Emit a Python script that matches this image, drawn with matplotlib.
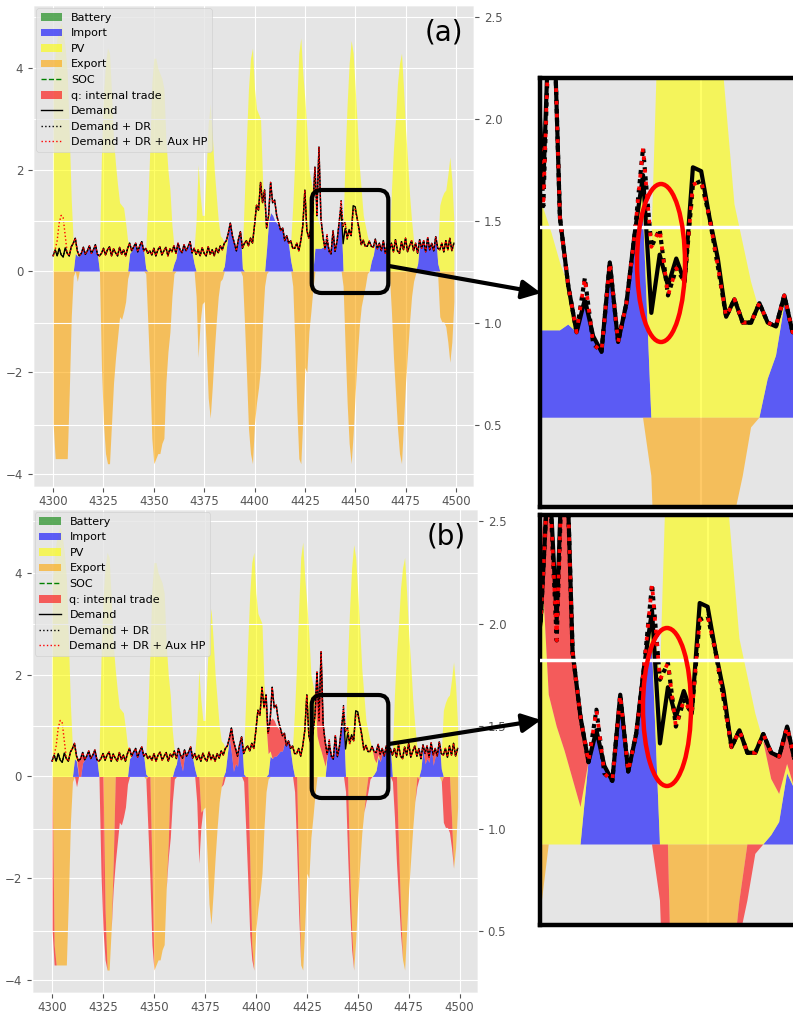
import numpy as np
import matplotlib
matplotlib.use("Agg")
import matplotlib.pyplot as plt
from matplotlib.patches import Patch, FancyBboxPatch, Ellipse, FancyArrowPatch
from matplotlib.lines import Line2D
from matplotlib.transforms import Affine2D

plt.style.use("ggplot")

# hourly time steps 4300 .. 4499
HOURS = np.arange(4300, 4500)

# one row per 24 h, first row starts at hour 4300
PV = [
    3.7, 4.3, 4.6, 4.8, 4.9, 4.7, 4.4, 3.9, 2.7, 1.4, 0.55, 0.3, 0.1, 0, 0, 0, 0, 0, 0, 0, 0, 0, 0, 0.3,
    2.3, 3.5, 4.1, 4.4, 4.3, 3.5, 2.6, 2.1, 1.7, 1.35, 1.3, 1.25, 0.95, 0.6, 0.2, 0, 0, 0, 0, 0, 0, 0, 0.4, 1.3,
    2.4, 3.7, 4.2, 4.2, 4.0, 3.9, 3.8, 3.6, 2.6, 2.0, 1.6, 0.9, 0.35, 0.1, 0, 0, 0, 0, 0, 0, 0, 0, 0.3, 1.0,
    2.1, 1.5, 1.1, 1.1, 2.0, 2.9, 3.3, 2.7, 2.0, 1.5, 1.0, 0.7, 0.65, 0.45, 0.15, 0, 0, 0, 0, 0, 0, 0, 0.4, 1.5,
    2.6, 3.6, 4.2, 4.4, 3.6, 3.2, 3.1, 3.0, 1.8, 1.0, 0.4, 0.1, 0, 0, 0, 0, 0, 0, 0, 0, 0, 0.05, 0.4, 1.3,
    2.2, 3.3, 4.3, 4.6, 3.9, 3.4, 2.8, 2.0, 1.8, 1.6, 0.8, 0.63, 0.5, 0.35, 0.2, 0, 0, 0, 0, 0, 0, 0, 0, 0.2,
    0.9, 2.3, 3.3, 4.1, 4.55, 4.3, 3.6, 2.9, 2.1, 1.6, 1.1, 0.9, 0.7, 0.55, 0.3, 0.15, 0.05, 0, 0, 0, 0, 0, 0, 0.5,
    1.6, 2.4, 3.0, 3.7, 4.1, 4.3, 3.6, 2.8, 2.2, 1.5, 1.0, 0.6, 0.4, 0.2, 0.05, 0, 0, 0, 0, 0, 0, 0, 0, 0.3,
    1.3, 1.45, 1.55, 1.6, 1.9, 2.25, 1.8, 1.0,
]

DEMAND = [
    0.30, 0.42, 0.30, 0.45, 0.32, 0.28, 0.46, 0.35, 0.30, 0.48, 0.55, 0.65, 0.40, 0.30, 0.35, 0.47, 0.33, 0.40, 0.50, 0.35, 0.42, 0.52, 0.33, 0.30,
    0.35, 0.45, 0.32, 0.42, 0.48, 0.30, 0.44, 0.36, 0.30, 0.47, 0.33, 0.42, 0.30, 0.45, 0.55, 0.40, 0.48, 0.55, 0.38, 0.50, 0.58, 0.40, 0.45, 0.35,
    0.40, 0.32, 0.45, 0.30, 0.42, 0.48, 0.32, 0.40, 0.47, 0.30, 0.44, 0.38, 0.50, 0.35, 0.55, 0.42, 0.36, 0.52, 0.40, 0.48, 0.58, 0.36, 0.45, 0.33,
    0.42, 0.30, 0.46, 0.35, 0.30, 0.48, 0.33, 0.42, 0.30, 0.45, 0.36, 0.50, 0.42, 0.55, 0.60, 0.75, 0.95, 0.70, 0.55, 0.40, 0.62, 0.78, 0.45, 0.55,
    0.60, 0.50, 0.65, 0.55, 0.90, 1.30, 1.20, 1.75, 1.35, 1.60, 0.85, 1.10, 1.75, 1.35, 1.40, 1.10, 0.95, 0.80, 0.85, 0.60, 0.70, 0.55, 0.60, 0.45,
    0.45, 0.55, 0.40, 0.60, 0.90, 1.60, 0.80, 0.65, 0.85, 1.20, 2.05, 1.20, 2.45, 1.03, 0.68, 0.44, 0.61, 0.42, 0.34, 0.80, 0.39, 0.59, 0.95, 1.25,
    0.54, 0.84, 0.68, 0.82, 0.70, 1.29, 1.27, 1.03, 0.82, 0.52, 0.61, 0.49, 0.49, 0.59, 0.49, 0.47, 0.63, 0.44, 0.55, 0.40, 0.60, 0.35, 0.55, 0.42,
    0.55, 0.38, 0.62, 0.40, 0.35, 0.58, 0.42, 0.65, 0.38, 0.50, 0.60, 0.40, 0.55, 0.35, 0.62, 0.45, 0.60, 0.38, 0.66, 0.42, 0.55, 0.40, 0.68, 0.45,
    0.42, 0.55, 0.38, 0.60, 0.42, 0.65, 0.40, 0.55,
]

# hours where demand + DR (and + aux heat pump) leave the plain demand
DR_CHANGES = {4431: 1.09, 4436: 0.72, 4437: 0.38, 4443: 1.39, 4444: 0.88, 4445: 0.97,
              4446: 0.63, 4447: 0.77, 4449: 1.20, 4450: 1.22, 4452: 0.78}
HP_CHANGES = {4302: 0.6, 4303: 0.95, 4304: 1.1, 4305: 1.05, 4306: 0.7}

IMPORT_A = [
    0, 0, 0, 0, 0, 0, 0, 0, 0, 0, 0, 0.35, 0.30, 0.30, 0.35, 0.47, 0.33, 0.40, 0.50, 0.35, 0.42, 0.52, 0.33, 0,
    0, 0, 0, 0, 0, 0, 0, 0, 0, 0, 0, 0, 0, 0, 0.35, 0.40, 0.48, 0.55, 0.38, 0.50, 0.58, 0.40, 0.05, 0,
    0, 0, 0, 0, 0, 0, 0, 0, 0, 0, 0, 0, 0.15, 0.25, 0.55, 0.42, 0.36, 0.52, 0.40, 0.48, 0.58, 0.36, 0.15, 0,
    0, 0, 0, 0, 0, 0, 0, 0, 0, 0, 0, 0, 0, 0.10, 0.45, 0.75, 0.95, 0.70, 0.55, 0.40, 0.62, 0.78, 0.05, 0,
    0, 0, 0, 0, 0, 0, 0, 0, 0, 0, 0.45, 1.0, 1.15, 1.1, 1.0, 0.95, 0.9, 0.8, 0.85, 0.6, 0.7, 0.5, 0.2, 0,
    0, 0, 0, 0, 0, 0, 0, 0, 0, 0, 0.45, 0.45, 0.45, 0.45, 0.48, 0.44, 0.61, 0.42, 0.34, 0.80, 0.39, 0.59, 0.95, 1.05,
    0, 0, 0, 0, 0, 0, 0, 0, 0, 0, 0, 0, 0, 0, 0.2, 0.32, 0.58, 0.44, 0.55, 0.40, 0.60, 0.35, 0.55, 0,
    0, 0, 0, 0, 0, 0, 0, 0, 0, 0, 0, 0, 0, 0.15, 0.57, 0.45, 0.60, 0.38, 0.66, 0.42, 0.55, 0.40, 0.68, 0.15,
    0, 0, 0, 0, 0, 0, 0, 0,
]

EXPORT_A = [
    -3.0, -3.7, -3.7, -3.7, -3.7, -3.7, -3.7, -3.7, -2.4, -0.9, -0.1, 0, -0.2, 0, 0, 0, 0, 0, 0, 0, 0, 0, 0, 0,
    -1.9, -3.0, -3.6, -3.8, -3.8, -3.0, -2.2, -1.7, -1.3, -0.9, -0.95, -0.8, -0.6, -0.15, 0, 0, 0, 0, 0, 0, 0, 0, -0.05, -1.0,
    -2.0, -3.3, -3.8, -3.7, -3.6, -3.6, -3.4, -3.3, -2.2, -1.6, -1.2, -0.5, -0.05, 0, 0, 0, 0, 0, 0, 0, 0, 0, 0, -0.5,
    -1.7, -1.0, -0.65, -0.6, -1.5, -2.5, -2.9, -2.3, -1.6, -1.0, -0.5, -0.2, -0.15, 0, 0, 0, 0, 0, 0, 0, 0, 0, -0.1, -1.0,
    -2.0, -3.1, -3.6, -3.8, -3.0, -2.6, -2.3, -1.9, -1.0, -0.3, -0.05, 0, 0, 0, 0, 0, 0, 0, 0, 0, 0, 0, 0, -0.3,
    -1.4, -2.7, -3.7, -3.8, -2.9, -1.9, -2.0, -1.2, -0.8, -0.35, 0, 0, 0, 0, 0, 0, 0, 0, 0, 0, 0, 0, 0, 0,
    -0.3, -1.5, -2.6, -3.4, -3.8, -3.2, -2.4, -1.7, -1.1, -0.7, -0.5, -0.3, -0.05, 0, 0, 0, 0, 0, 0, 0, 0, 0, 0, -0.1,
    -0.8, -1.7, -2.4, -3.1, -3.6, -3.8, -3.0, -2.2, -1.6, -1.0, -0.5, -0.2, -0.05, 0, 0, 0, 0, 0, 0, 0, 0, 0, 0, -0.1,
    -0.9, -1.0, -1.0, -1.1, -1.4, -1.8, -1.4, -0.6,
]

# internal trade in case (b): + replaces import, - replaces export
Q_B = [
    -3.0, -0.4, 0, 0, 0, 0, 0, 0, 0, 0, 0, 0, -0.2, 0.3, 0.35, 0.2, 0, 0, 0, 0, 0, 0, 0, 0,
    -1.9, -3.0, -1.0, 0, 0, 0, -0.5, -1.7, -1.3, -0.9, -0.95, -0.8, -0.6, -0.15, 0, 0, 0, 0, 0, 0, 0, 0, 0, -1.0,
    -2.0, -1.5, 0, 0, 0, 0, 0, 0, 0, -0.3, -1.2, -0.5, -0.05, 0, 0, 0.15, 0.25, 0.1, 0, 0, 0, 0, 0, -0.5,
    -1.7, -0.3, 0, 0, 0, 0, 0, 0, 0, 0, 0, 0, -0.15, 0, 0, 0, 0.5, 0.6, 0.3, 0.2, 0, 0, -0.1, -1.0,
    -2.0, -1.5, -0.3, 0, 0, 0, 0, 0, 0, 0.3, 0.4, 0.6, 0.8, 0.7, 0.6, 0.5, 0.4, 0.3, 0.2, 0, 0, 0, 0, -0.3,
    -1.4, -0.8, 0, 0, 0, 0, 0, 0, 0, 0, 1.25, 0.57, 1.95, 0.68, 0.48, 0, 0, 0, 0, 0, 0, 0, 0, 0,
    -0.3, -1.5, -0.8, -0.4, 0, 0, 0, 0, 0, 0, -0.2, -0.3, -0.05, 0, 0.15, 0.2, 0.2, 0.15, 0.1, 0, 0, 0, 0, -0.1,
    -0.8, -1.7, -1.0, -0.5, 0, 0, 0, 0, 0, 0, 0, -0.2, 0, 0, 0, 0.2, 0.25, 0.1, 0, 0.2, 0.15, 0, 0, 0,
    -0.9, -1.0, -1.0, -1.1, -0.6, 0, 0, 0,
]

for arr in (PV, DEMAND, IMPORT_A, EXPORT_A, Q_B):
    assert len(arr) == len(HOURS), len(arr)

pv = np.array(PV)
demand = np.array(DEMAND)
demand_dr = demand.copy()
for h, v in DR_CHANGES.items():
    demand_dr[h - 4300] = v
demand_hp = demand_dr.copy()
for h, v in HP_CHANGES.items():
    demand_hp[h - 4300] = v

imp_a = np.array(IMPORT_A)
exp_a = np.array(EXPORT_A)
q_b = np.array(Q_B)
q_pos = np.clip(q_b, 0, None)
q_neg = np.clip(q_b, None, 0)
imp_b = np.clip(imp_a - q_pos, 0, None)
exp_b = np.minimum(exp_a - q_neg, 0)

YLIM = (-4.25, 5.25)
Y2LIM = (0.2, 2.56)


def draw_flows(ax, imp, exp, qp=None, qn=None, lw=1.0, inset=False):
    t = HOURS
    ax.fill_between(t, 0, imp, color="blue", alpha=0.6, lw=0)
    ax.fill_between(t, imp, imp + pv, color="yellow", alpha=0.6, lw=0)
    ax.fill_between(t, 0, exp, color="orange", alpha=0.6, lw=0)
    if qp is not None:
        ax.fill_between(t, imp + pv, imp + pv + qp, color="red", alpha=0.6, lw=0)
        ax.fill_between(t, exp, exp + qn, color="red", alpha=0.6, lw=0)
    ax.plot(t, demand, color="black", lw=lw)
    if inset:
        ax.plot(t, demand_dr, color="black", lw=lw, ls=(0, (1, 1.2)))
        ax.plot(t, demand_hp, color="red", lw=lw * 0.9, ls=(0, (1, 2.4)))
    else:
        ax.plot(t, demand_dr, color="black", lw=lw, ls=":")
        ax.plot(t, demand_hp, color="red", lw=lw, ls=":")


def main_panel(rect, imp, exp, qp=None, qn=None):
    ax = fig.add_axes(rect)
    draw_flows(ax, imp, exp, qp, qn)
    ax.set_xlim(4290, 4509)
    ax.set_ylim(*YLIM)
    ax.set_xticks(range(4300, 4501, 25))
    ax.set_yticks([-4, -2, 0, 2, 4])
    ax.tick_params(labelsize=8.5, colors="#555555")
    ax.tick_params(axis="x", pad=2.5)
    ax2 = ax.twinx()
    ax2.set_ylim(*Y2LIM)
    ax2.set_yticks([0.5, 1.0, 1.5, 2.0, 2.5])
    ax2.tick_params(labelsize=8.5, colors="#555555")
    handles = [
        Patch(facecolor="green", alpha=0.6, label="Battery"),
        Patch(facecolor="blue", alpha=0.6, label="Import"),
        Patch(facecolor="yellow", alpha=0.6, label="PV"),
        Patch(facecolor="orange", alpha=0.6, label="Export"),
        Line2D([], [], color="green", ls="--", lw=1, label="SOC"),
        Patch(facecolor="red", alpha=0.6, label="q: internal trade"),
        Line2D([], [], color="black", lw=1, label="Demand"),
        Line2D([], [], color="black", ls=":", lw=1, label="Demand + DR"),
        Line2D([], [], color="red", ls=":", lw=1, label="Demand + DR + Aux HP"),
    ]
    ax2.legend(handles=handles, loc="upper left", fontsize=8, labelspacing=0.5,
               handlelength=1.9, borderaxespad=0.3, borderpad=0.4)
    return ax


def inset_panel(rect, imp, exp, qp, qn, xlim, ylim):
    ax = fig.add_axes(rect)
    ax.grid(False)
    ax.axvline(4450, color="white", lw=1.5, zorder=0.5)
    draw_flows(ax, imp, exp, qp, qn, lw=3, inset=True)
    # right axis grid line at 1.5 lies on top of the data
    y15 = YLIM[0] + (1.5 - Y2LIM[0]) / (Y2LIM[1] - Y2LIM[0]) * (YLIM[1] - YLIM[0])
    ax.axhline(y15, color="white", lw=2.5, zorder=5)
    ax.set_xlim(*xlim)
    ax.set_ylim(*ylim)
    ax.set_xticks([])
    ax.set_yticks([])
    for s in ax.spines.values():
        s.set_visible(True)
        s.set_color("black")
        s.set_linewidth(3.2)
    return ax


fig = plt.figure(figsize=(7.93, 10.14), dpi=100)
W, H = 793, 1014
# pixel coordinates, origin at top left
PX = Affine2D().scale(1 / 100, -1 / 100).translate(0, H / 100) + fig.dpi_scale_trans


def frac(x0, y0, x1, y1):
    return [x0 / W, 1 - y1 / H, (x1 - x0) / W, (y1 - y0) / H]


main_panel(frac(33, 5, 474, 486.5), imp_a, exp_a)
main_panel(frac(31.7, 509, 478, 993), imp_b, exp_b, q_pos, q_neg)

inset_panel(frac(540, 78, 830, 507), imp_a, exp_a, None, None,
            (4430.6, 4465.5), (-0.46, 1.75))
inset_panel(frac(540, 515, 830, 925), imp_b, exp_b, q_pos, q_neg,
            (4428.9, 4465.4), (-0.43, 1.76))

fig.text(443.7, 33, "(a)", transform=PX, fontsize=20, ha="center", va="center")
fig.text(446, 536.5, "(b)", transform=PX, fontsize=20, ha="center", va="center")

for y0, ya, yb, ec, ey in [(190, 266, 293, 661, 263), (695, 744, 720, 667, 707)]:
    fig.add_artist(FancyBboxPatch((311.7, y0), 76.6, 103,
                                  boxstyle="round,pad=0,rounding_size=10",
                                  fill=False, ec="black", lw=3, transform=PX, zorder=10))
    fig.add_artist(FancyArrowPatch((389, ya), (541, yb), arrowstyle="-|>",
                                   mutation_scale=28, lw=3, color="black",
                                   shrinkA=0, shrinkB=0, transform=PX, zorder=10))
    fig.add_artist(Ellipse((ec, ey), 48, 158, fill=False, ec="red", lw=3.2,
                           transform=PX, zorder=10))

fig.savefig("out.png", dpi=100)
